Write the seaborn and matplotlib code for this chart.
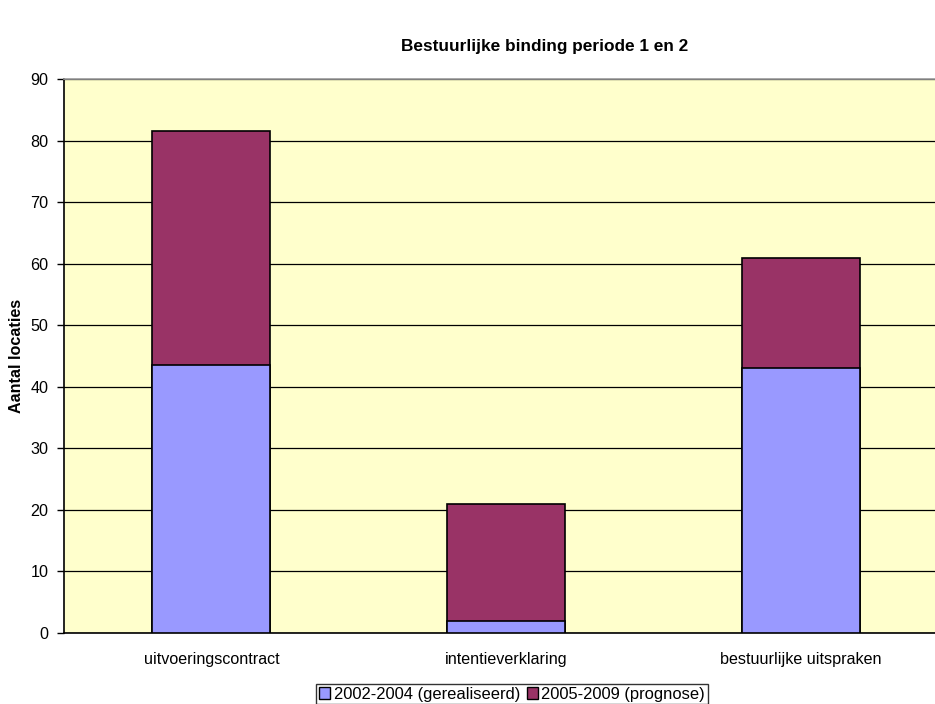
import matplotlib
matplotlib.use("Agg")
import matplotlib.pyplot as plt
import matplotlib.patches as mpatches
import seaborn as sns
import pandas as pd

categories = ["uitvoeringscontract", "intentieverklaring", "bestuurlijke uitspraken"]
realised = [43.5, 2, 43]      # 2002-2004 (gerealiseerd)
forecast = [38, 19, 18]       # 2005-2009 (prognose)
series_labels = ["2002-2004 (gerealiseerd)", "2005-2009 (prognose)"]
y_ticks = list(range(0, 91, 10))

blue = "#9999FF"
maroon = "#993366"
panel = "#FFFFCC"

sns.set_style("white")
plt.rcParams["font.family"] = ["Liberation Sans", "DejaVu Sans"]
plt.rcParams.update({"text.color": "black", "axes.labelcolor": "black",
                     "xtick.color": "black", "ytick.color": "black"})

df = pd.DataFrame({
    "categorie": categories,
    "realised": realised,
    "total": [a + b for a, b in zip(realised, forecast)],
})

fig = plt.figure(figsize=(9.35, 7.04), dpi=100)
ax = fig.add_axes([64 / 935, 71 / 704, 884 / 935, 554 / 704])
ax.set_facecolor(panel)

# stacked bars: full total in maroon, realised part drawn over it in blue
sns.barplot(data=df, x="categorie", y="total", color=maroon, width=0.4,
            edgecolor="black", linewidth=1.2, saturation=1, ax=ax, zorder=3)
sns.barplot(data=df, x="categorie", y="realised", color=blue, width=0.4,
            edgecolor="black", linewidth=1.2, saturation=1, ax=ax, zorder=4)

ax.set_ylim(0, 90)
ax.set_xlim(-0.5, 2.5)
ax.set_yticks(y_ticks)
ax.yaxis.grid(True, color="black", linewidth=0.9, zorder=1)
ax.set_axisbelow(True)

ax.set_xticks([0, 1, 2])
ax.set_xticklabels(categories)
ax.set_xticks([-0.5, 0.5, 1.5, 2.5], minor=True)
ax.tick_params(axis="x", which="major", length=0, pad=14, labelsize=11.6,
               labelcolor="black")
ax.tick_params(axis="x", which="minor", length=5, width=1, color="black", direction="out")
ax.tick_params(axis="y", length=5, width=1, color="black", direction="out",
               left=True, pad=6, labelsize=11.6, labelcolor="black")

ax.set_xlabel("")
ax.set_ylabel("")
fig.text(17 / 935, 1 - 356 / 704, "Aantal locaties", rotation=90, color="black",
         ha="center", va="center", fontsize=11.6, fontweight="bold")

for side in ["left", "bottom"]:
    ax.spines[side].set_color("black")
    ax.spines[side].set_linewidth(1.2)
ax.spines["top"].set_color("#999999")
ax.spines["top"].set_linewidth(1.2)
ax.spines["right"].set_visible(False)

fig.text(545 / 935, 1 - 47 / 704, "Bestuurlijke binding periode 1 en 2", color="black",
         ha="center", va="center", fontsize=12.4, fontweight="bold")

handles = [mpatches.Patch(facecolor=blue, edgecolor="black", linewidth=1),
           mpatches.Patch(facecolor=maroon, edgecolor="black", linewidth=1)]
leg = fig.legend(handles, series_labels, loc="lower center",
                 bbox_to_anchor=(512 / 935, 0.0), ncol=2, fontsize=11.9,
                 frameon=True, fancybox=False, handlelength=0.7, handleheight=0.7,
                 handletextpad=0.2, columnspacing=0.4, borderpad=0.15,
                 borderaxespad=0.0)
for t in leg.get_texts():
    t.set_color("black")
leg.get_frame().set_edgecolor("black")
leg.get_frame().set_linewidth(1)

fig.savefig("out.png", dpi=100)
